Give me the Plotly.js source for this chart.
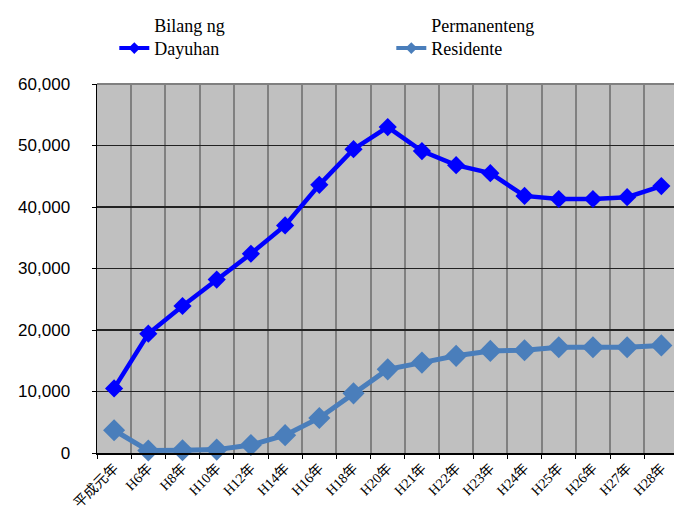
<!DOCTYPE html>
<html>
<head>
<meta charset="utf-8">
<script src="https://cdn.plot.ly/plotly-3.0.1.min.js"></script>
<style>html,body{margin:0;padding:0;overflow:hidden;background:#fff;}</style>
</head>
<body>
<div id="chart" style="width:674px;height:510px;"></div>
<script>
const categories = ["平成元年","H6年","H8年","H10年","H12年","H14年","H16年","H18年","H20年","H21年","H22年","H23年","H24年","H25年","H26年","H27年","H28年"];
const foreigners = [10500,19400,23900,28200,32400,37000,43600,49400,53000,49100,46800,45500,41800,41300,41300,41600,43400];
const permanent = [3700,400,450,550,1300,2900,5700,9700,13600,14700,15800,16600,16700,17200,17200,17200,17500];
const seriesNames = ["Bilang ng<br>Dayuhan","Permanenteng<br>Residente"];
const colors = ["#0000ff","#4a7ebb"];

const traces = [
  {x: categories, y: foreigners, name: seriesNames[0], type: "scatter", mode: "lines+markers", showlegend: false,
   line: {color: colors[0], width: 4.5}, marker: {symbol: "diamond", size: 14, color: colors[0]}, cliponaxis: false},
  {x: categories, y: permanent, name: seriesNames[1], type: "scatter", mode: "lines+markers", showlegend: false,
   line: {color: colors[1], width: 5}, marker: {symbol: "diamond", size: 17, color: colors[1]}, cliponaxis: false},
  // legend-only entries with small legend symbols
  {x: [null], y: [null], name: seriesNames[0], type: "scatter", mode: "lines+markers",
   line: {color: colors[0], width: 4}, marker: {symbol: "diamond", size: 9, color: colors[0]}},
  {x: [null], y: [null], name: seriesNames[1], type: "scatter", mode: "lines+markers",
   line: {color: colors[1], width: 4}, marker: {symbol: "diamond", size: 9, color: colors[1]}}
];

const layout = {
  width: 674, height: 510,
  margin: {l: 97, r: 0, t: 84, b: 57},
  paper_bgcolor: "#ffffff",
  plot_bgcolor: "#c0c0c0",
  showlegend: true,
  legend: {orientation: "h", x: 0.03, y: 1.21, xanchor: "left", yanchor: "top",
           valign: "bottom", entrywidth: 232, entrywidthmode: "pixels",
           font: {family: "Liberation Serif, DejaVu Serif, serif", size: 18, color: "#000"},
           bgcolor: "rgba(0,0,0,0)"},
  xaxis: {type: "category", range: [-0.5, 16.37], tickson: "boundaries",
          showgrid: true, gridcolor: "#808080", gridwidth: 2,
          ticks: "outside", ticklen: 4, tickcolor: "#000",
          tickangle: -45,
          tickfont: {family: "Liberation Serif, Noto Sans CJK JP, serif", size: 14, color: "#000"},
          showline: true, linecolor: "#000", linewidth: 1.5, mirror: false, fixedrange: true},
  yaxis: {range: [0, 60000], dtick: 10000, tickformat: ",",
          showgrid: true, gridcolor: "#222", gridwidth: 1.2,
          ticks: "outside", ticklen: 4, tickcolor: "#000", ticklabelstandoff: 18,
          tickfont: {family: "Liberation Sans, Arial, sans-serif", size: 17, color: "#000"},
          showline: true, linecolor: "#000", linewidth: 1.5, zeroline: false, fixedrange: true},
  shapes: [{type: "line", xref: "paper", yref: "paper", x0: 0, x1: 1, y0: 1, y1: 1,
            line: {color: "#808080", width: 2}}]
};

Plotly.newPlot("chart", traces, layout, {displayModeBar: false, staticPlot: true});
</script>
</body>
</html>
